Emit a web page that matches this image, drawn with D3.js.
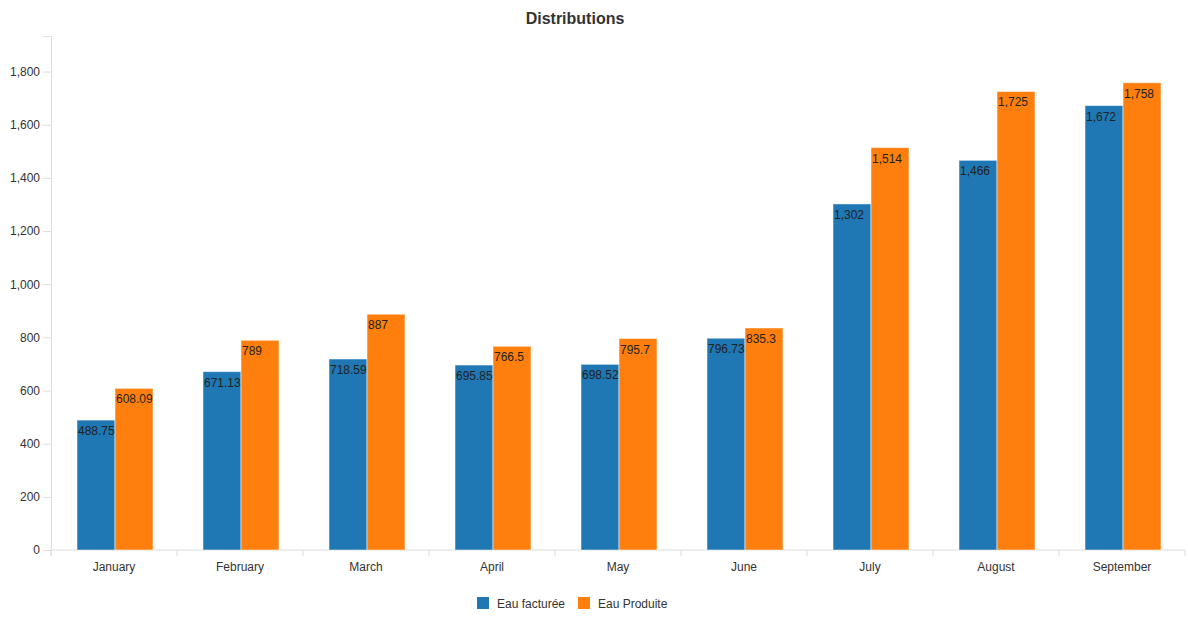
<!DOCTYPE html>
<html>
<head>
<meta charset="utf-8">
<script src="https://cdn.jsdelivr.net/npm/d3@7"></script>
<style>
  body { margin: 0; background: #fff; }
  svg { font-family: "Liberation Sans", Arial, sans-serif; }
  .axis path, .axis line { stroke: #ddd; }
  .axis text { fill: #333; font-size: 12px; }
</style>
</head>
<body>
<div id="chart"></div>
<script>
// data
const months = ["January", "February", "March", "April", "May", "June", "July", "August", "September"];
const factured = [488.75, 671.13, 718.59, 695.85, 698.52, 796.73, 1302, 1466, 1672];
const produced = [608.09, 789, 887, 766.5, 795.7, 835.3, 1514, 1725, 1758];
const seriesNames = ["Eau facturée", "Eau Produite"];
const colors = ["#1f77b4", "#ff7f0e"];
const yTicks = [0, 200, 400, 600, 800, 1000, 1200, 1400, 1600, 1800];

const width = 1188, height = 617;
const margin = {top: 36, right: 3, bottom: 67, left: 51};
const w = width - margin.left - margin.right;
const h = height - margin.top - margin.bottom;

const svg = d3.select("#chart").append("svg")
  .attr("width", width)
  .attr("height", height);

svg.append("text")
  .attr("x", 575)
  .attr("y", 24)
  .attr("text-anchor", "middle")
  .style("font-size", "16px")
  .style("font-weight", "bold")
  .style("fill", "#333")
  .text("Distributions");

const g = svg.append("g")
  .attr("transform", "translate(" + margin.left + "," + margin.top + ")");

const x = d3.scaleBand().domain(months).range([0, w]);
const x1 = d3.scaleBand().domain([0, 1]).range([0, 76]);
const y = d3.scaleLinear()
  .domain([0, d3.max(produced.concat(factured)) * 1.1])
  .range([h, 0]);

// y axis
g.append("g").attr("class", "axis")
  .call(d3.axisLeft(y).tickValues(yTicks).tickFormat(d3.format(",")).tickSize(8).tickPadding(3));

// x axis, ticks between the categories
const xAxis = g.append("g").attr("class", "axis")
  .attr("transform", "translate(0," + h + ")")
  .call(d3.axisBottom(x).tickSize(0).tickPadding(12));
xAxis.selectAll(".tick")
  .append("line")
  .attr("x1", -x.bandwidth() / 2).attr("x2", -x.bandwidth() / 2)
  .attr("y1", 0).attr("y2", 6);
xAxis.select(".domain").attr("d", "M0,6V0H" + w + "V6");

const series = [factured, produced];
series.forEach(function (vals, s) {
  const grp = g.append("g");
  grp.selectAll("rect")
    .data(vals)
    .enter()
    .append("rect")
    .attr("x", (d, i) => x(months[i]) + (x.bandwidth() - 76) / 2 + x1(s) + 1)
    .attr("y", d => y(d))
    .attr("width", x1.bandwidth())
    .attr("height", d => h - y(d))
    .attr("fill", colors[s])
    .attr("stroke", "#fff")
    .attr("stroke-opacity", 0.5);
  grp.selectAll("text")
    .data(vals)
    .enter()
    .append("text")
    .attr("x", (d, i) => x(months[i]) + (x.bandwidth() - 76) / 2 + x1(s) + 2)
    .attr("y", d => y(d) + 15)
    .style("font-size", "12px")
    .style("fill", "#222")
    .text(d => d3.format(",")(d));
});

// legend
const legend = svg.append("g").attr("transform", "translate(477,597)");
const lx = [0, 101];
seriesNames.forEach(function (name, i) {
  legend.append("rect")
    .attr("x", lx[i]).attr("y", 0)
    .attr("width", 12).attr("height", 12)
    .attr("fill", colors[i]);
  legend.append("text")
    .attr("x", lx[i] + 20).attr("y", 11)
    .style("font-size", "12px")
    .style("fill", "#333")
    .text(name);
});
</script>
</body>
</html>
